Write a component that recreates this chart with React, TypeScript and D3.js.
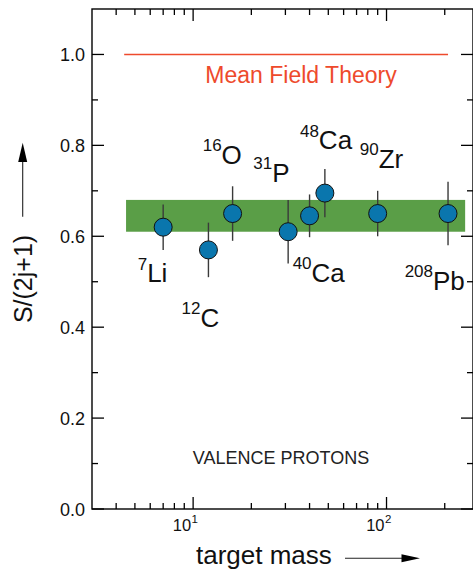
import * as d3 from 'd3';

// target nuclei: mass number, element, S/(2j+1) and its error
const massNumbers = [7, 12, 16, 31, 40, 48, 90, 208];
const elements = ['Li', 'C', 'O', 'P', 'Ca', 'Ca', 'Zr', 'Pb'];
const strengths = [0.62, 0.57, 0.65, 0.61, 0.645, 0.695, 0.65, 0.65];
const errors = [0.05, 0.06, 0.06, 0.07, 0.047, 0.053, 0.05, 0.07];

// label offsets from the marker (px): start of the element symbol and its baseline
const labelDx = [-16, -8, -11, -16, 2, -6, 1, -15];
const labelDy = [55, 77, -50, -50, 66, -44, -46, 76];

const bandRange = [0.61, 0.68];
const bandMass = [4.5, 255];
const meanField = 1.0;
const meanFieldMass = [4.4, 208];

const yMajor = [0, 0.2, 0.4, 0.6, 0.8, 1.0];
const yMinor = [0.1, 0.3, 0.5, 0.7, 0.9];
const xMajor = [10, 100];
const xMinor = [4, 5, 6, 7, 8, 9, 20, 30, 40, 50, 60, 70, 80, 90, 200];

const W = 473;
const H = 573;
const left = 92;
const right = 473;
const top = 9;
const bottom = 509;
const font = '"Liberation Sans", Arial, Helvetica, sans-serif';

const App = () => {
  const x = d3.scaleLog().domain([3, 280]).range([left, right]);
  const y = d3.scaleLinear().domain([0, 1.1]).range([bottom, top]);

  return (
    <svg
      width={W}
      height={H}
      style={{ position: 'absolute', left: 0, top: 0, background: '#fff' }}
      fontFamily={font}
    >
      {/* green band */}
      <rect
        x={x(bandMass[0])}
        y={y(bandRange[1])}
        width={x(bandMass[1]) - x(bandMass[0])}
        height={y(bandRange[0]) - y(bandRange[1])}
        fill="#5a9e47"
      />

      {/* mean field theory line */}
      <line
        x1={x(meanFieldMass[0])}
        x2={x(meanFieldMass[1])}
        y1={y(meanField)}
        y2={y(meanField)}
        stroke="#ee4a2c"
        strokeWidth={1.5}
      />
      <text x={301} y={y(meanField) + 29} textAnchor="middle" fontSize={23} fill="#ee4a2c">
        Mean Field Theory
      </text>

      {/* error bars + markers */}
      {massNumbers.map((m, i) => (
        <line
          key={'e' + i}
          x1={x(m)}
          x2={x(m)}
          y1={y(strengths[i] - errors[i])}
          y2={y(strengths[i] + errors[i])}
          stroke="#3a3a3a"
          strokeWidth={1.4}
        />
      ))}
      {massNumbers.map((m, i) => (
        <circle
          key={'c' + i}
          cx={x(m)}
          cy={y(strengths[i])}
          r={9}
          fill="#0a76ad"
          stroke="#111"
          strokeWidth={1}
        />
      ))}

      {/* isotope labels */}
      {massNumbers.map((m, i) => {
        const lx = x(m) + labelDx[i];
        const ly = y(strengths[i]) + labelDy[i];
        return (
          <g key={'l' + i} fill="#111">
            <text x={lx} y={ly - 12.5} textAnchor="end" fontSize={17}>
              {m}
            </text>
            <text x={lx} y={ly} fontSize={26}>
              {elements[i]}
            </text>
          </g>
        );
      })}

      <text x={281} y={464} textAnchor="middle" fontSize={18} fill="#222">
        VALENCE PROTONS
      </text>

      {/* frame */}
      <rect x={left} y={top} width={right - left} height={bottom - top} fill="none" stroke="#000" strokeWidth={1.4} />

      {/* y ticks, left and right, inward */}
      {yMajor.map(v => (
        <g key={'ym' + v}>
          <line x1={left} x2={left + 12} y1={y(v)} y2={y(v)} stroke="#000" strokeWidth={1.3} />
          <line x1={right} x2={right - 12} y1={y(v)} y2={y(v)} stroke="#000" strokeWidth={1.3} />
          <text x={left - 7} y={y(v) + 6.5} textAnchor="end" fontSize={18} fill="#111">
            {v.toFixed(1)}
          </text>
        </g>
      ))}
      {yMinor.map(v => (
        <g key={'yn' + v}>
          <line x1={left} x2={left + 6} y1={y(v)} y2={y(v)} stroke="#000" strokeWidth={1.3} />
          <line x1={right} x2={right - 6} y1={y(v)} y2={y(v)} stroke="#000" strokeWidth={1.3} />
        </g>
      ))}

      {/* x ticks, bottom and top, inward */}
      {xMajor.map(v => (
        <g key={'xm' + v}>
          <line x1={x(v)} x2={x(v)} y1={bottom} y2={bottom - 12} stroke="#000" strokeWidth={1.3} />
          <line x1={x(v)} x2={x(v)} y1={top} y2={top + 12} stroke="#000" strokeWidth={1.3} />
          <text x={x(v) - 2} y={bottom + 22} textAnchor="end" fontSize={16.5} fill="#111">
            10
          </text>
          <text x={x(v) - 1.5} y={bottom + 14} fontSize={11.5} fill="#111">
            {Math.round(Math.log10(v))}
          </text>
        </g>
      ))}
      {xMinor.map(v => (
        <g key={'xn' + v}>
          <line x1={x(v)} x2={x(v)} y1={bottom} y2={bottom - 6} stroke="#000" strokeWidth={1.3} />
          <line x1={x(v)} x2={x(v)} y1={top} y2={top + 6} stroke="#000" strokeWidth={1.3} />
        </g>
      ))}

      {/* axis titles with arrows */}
      <text
        transform="translate(31.5,279) rotate(-90)"
        textAnchor="middle"
        fontSize={25}
        fill="#111"
      >
        S/(2j+1)
      </text>
      <line x1={22.7} x2={22.7} y1={216.7} y2={158} stroke="#222" strokeWidth={1.1} />
      <path d="M22.7,142.7 L27.2,162 L18.2,162 Z" fill="#000" />

      <text x={196} y={564} fontSize={26} fill="#111">
        target mass
      </text>
      <line x1={345} x2={405} y1={558.3} y2={558.3} stroke="#222" strokeWidth={1.1} />
      <path d="M420,558.3 L401.5,554.3 L401.5,562.3 Z" fill="#000" />
    </svg>
  );
};

export default App;
